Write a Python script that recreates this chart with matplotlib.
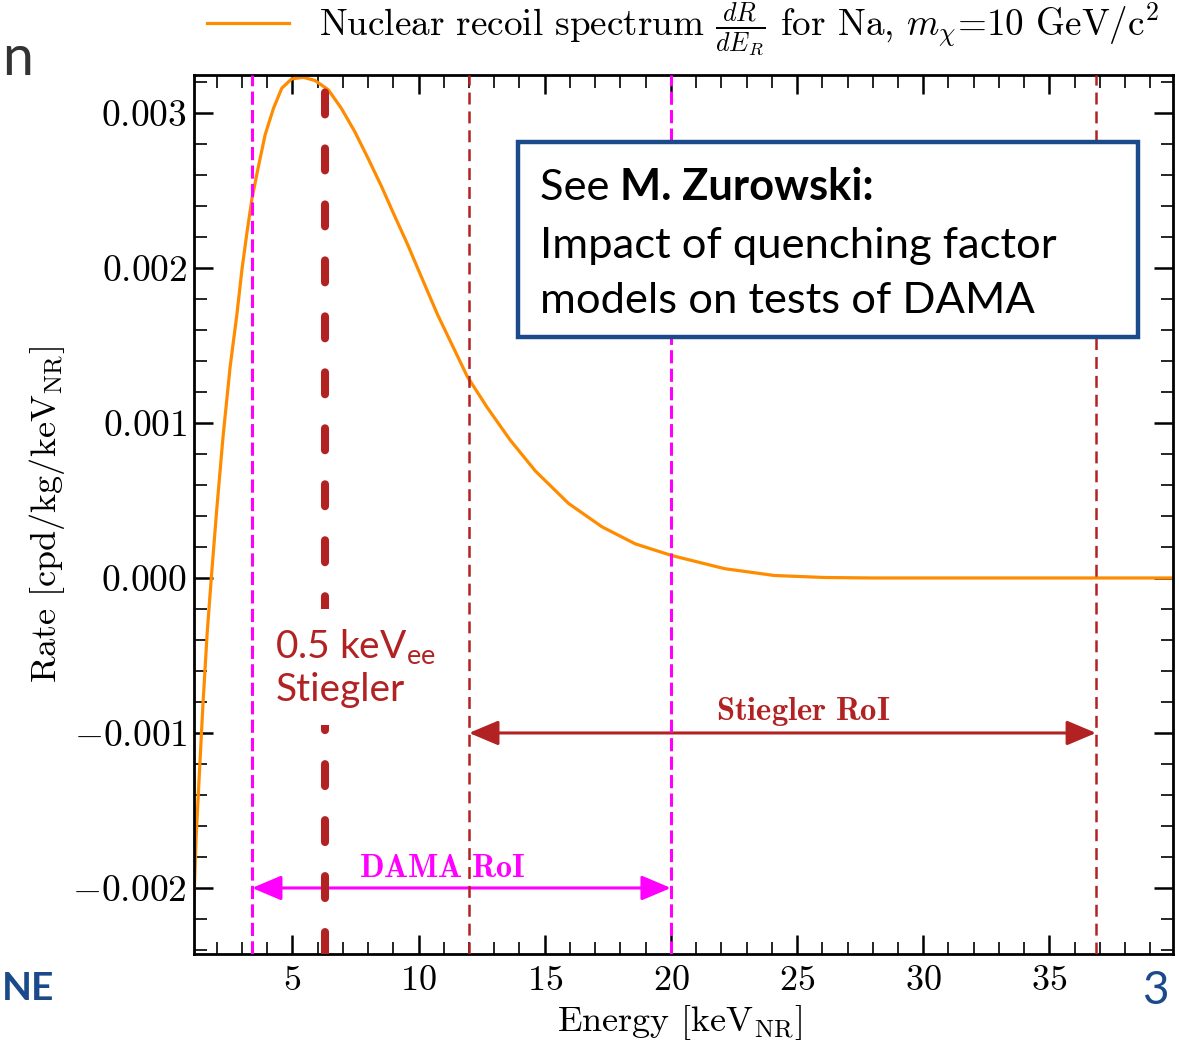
import matplotlib
matplotlib.use("Agg")
import matplotlib.pyplot as plt
from matplotlib.patches import Rectangle
from matplotlib.text import Annotation
from matplotlib.ticker import MultipleLocator

# ---------------------------------------------------------------
# data
# ---------------------------------------------------------------
energy = [1.05, 1.19, 1.32, 1.46, 1.62, 1.79, 1.99, 2.25, 2.53, 2.80, 3.00, 3.20,
          3.40, 3.66, 3.92, 4.25, 4.58, 4.97, 5.43, 5.89, 6.42, 6.94, 7.47, 7.99,
          8.52, 9.04, 9.57, 9.96, 10.75, 11.93, 12.72, 13.63, 14.63, 15.95, 17.27,
          18.59, 20.03, 22.13, 24.10, 26.10, 28.0, 30.0, 35.0, 40.0]
rate = [-2.30, -1.65, -1.24, -0.80, -0.36, 0.01, 0.42, 0.91, 1.36, 1.70, 1.99, 2.23,
        2.45, 2.66, 2.86, 3.03, 3.16, 3.22, 3.23, 3.21, 3.15, 3.03, 2.88, 2.71,
        2.53, 2.34, 2.15, 2.00, 1.70, 1.30, 1.10, 0.89, 0.69, 0.48, 0.33,
        0.22, 0.145, 0.06, 0.016, 0.003, 0.0, 0.0, 0.0, 0.0]
rate = [r * 1e-3 for r in rate]

dama_roi = [3.4, 20.0]
stiegler_roi = [12.0, 36.85]
stiegler_thr = 6.3

xticks = [5, 10, 15, 20, 25, 30, 35]
yticks = [-0.002, -0.001, 0.0, 0.001, 0.002, 0.003]
ytick_labels = [r"$-0.002$", r"$-0.001$", r"$0.000$", r"$0.001$", r"$0.002$", r"$0.003$"]

orange = "#ff8c00"
darkred = "#b22222"
magenta = "#ff00ff"
navy = "#1b4a8a"

plt.rcParams['font.family'] = 'serif'
plt.rcParams['font.serif'] = ['cmr10']
plt.rcParams['mathtext.fontset'] = 'cm'
plt.rcParams['axes.formatter.use_mathtext'] = True
plt.rcParams['mathtext.rm'] = 'Lato'
plt.rcParams['mathtext.bf'] = 'Lato:bold'
plt.rcParams['lines.scale_dashes'] = False

W, H = 1179, 1044
fig = plt.figure(figsize=(W / 100, H / 100), dpi=100)
ax = fig.add_axes([194 / W, 1 - 954 / H, (1173 - 194) / W, (954 - 75) / H])

######################################################################
# curve + lines
ax.plot(energy, rate, color=orange, lw=2.3, zorder=2,
        label=r"Nuclear recoil spectrum $\frac{dR}{dE_R}$ for Na, $m_\chi$=10 GeV/c$^2$")

for xv in dama_roi:
    ax.axvline(xv, color=magenta, lw=2.2, dashes=(9.5, 3.8), zorder=3)
for xv in stiegler_roi:
    ax.axvline(xv, color=darkred, lw=1.8, dashes=(8.6, 5.0), zorder=3)
ax.axvline(stiegler_thr, color=darkred, lw=5.8, dashes=(15.8, 24.5),
           dash_capstyle='round', zorder=3)

# RoI arrows
arrow_kw = dict(arrowstyle="<|-|>,head_length=0.9,head_width=0.38", mutation_scale=20,
                shrinkA=0, shrinkB=0, lw=2.2)
ax.annotate("", xy=(dama_roi[0], -0.002), xytext=(dama_roi[1], -0.002),
            arrowprops=dict(color=magenta, **arrow_kw), zorder=2)
ax.annotate("", xy=(stiegler_roi[0], -0.001), xytext=(stiegler_roi[1], -0.001),
            arrowprops=dict(color=darkred, **arrow_kw), zorder=2)
ax.text(10.95, -0.002 + 0.00003, r"$\mathbf{DAMA\ RoI}$", color=magenta,
        ha='center', va='bottom', fontsize=23, zorder=2)
ax.text(25.25, -0.001 + 0.00003, r"$\mathbf{Stiegler\ RoI}$", color=darkred,
        ha='center', va='bottom', fontsize=23.5, zorder=2)

ax.text(4.33, -0.00058, "0.5 keV$_\\mathrm{ee}$\nStiegler", color=darkred,
        fontfamily='Lato', math_fontfamily='custom', fontsize=28, linespacing=1.2,
        ha='left', va='center', zorder=4,
        bbox=dict(facecolor='white', edgecolor='none', pad=12))

######################################################################
# axes styling
ax.set_xlim(1.1, 39.9)
ax.set_ylim(-0.002426, 0.003245)
ax.set_xticks(xticks)
ax.set_xticklabels([r"$%d$" % t for t in xticks])
ax.set_yticks(yticks)
ax.set_yticklabels(ytick_labels)
ax.xaxis.set_minor_locator(MultipleLocator(1))
ax.yaxis.set_minor_locator(MultipleLocator(0.0002))
ax.tick_params(which='both', direction='in', top=True, right=True)
ax.tick_params(which='major', length=14, width=1.8)
ax.tick_params(which='minor', length=9, width=1.2)
ax.tick_params(axis='y', pad=5, labelsize=27)
ax.tick_params(axis='x', pad=8, labelsize=26)
for s in ax.spines.values():
    s.set_linewidth(2.0)

ax.set_xlabel(r"Energy [keV$_{\rm NR}$]", fontsize=26)
ax.set_ylabel(r"Rate [cpd/kg/keV$_{\rm NR}$]", fontsize=26)
ax.xaxis.set_label_coords(0.496, -0.056)
ax.yaxis.set_label_coords(-0.13, 0.5)

fig.legend(loc='center', bbox_to_anchor=(683 / W, 1 - 30 / H), frameon=False,
           fontsize=26.7, handlelength=2.2, handletextpad=0.8)

######################################################################
# note box
fig.add_artist(Rectangle((518 / W, 1 - 337 / H), 620 / W, 195 / H,
                         transform=fig.transFigure, facecolor='white',
                         edgecolor=navy, lw=3.2, zorder=5))
t1 = fig.text(540 / W, 1 - 207 / H, "See ", fontfamily='Lato', fontsize=31.3,
              va='bottom', zorder=6)
fig.add_artist(Annotation("M. Zurowski:", xy=(1, 0), xycoords=t1, fontfamily='Lato',
                          fontweight='bold', fontsize=31.3, va='bottom', ha='left',
                          zorder=6, annotation_clip=False))
fig.text(540 / W, 1 - 258 / H, "Impact of quenching factor", fontfamily='Lato',
         fontsize=31.3, va='baseline', zorder=6)
fig.text(540 / W, 1 - 313 / H, "models on tests of DAMA", fontfamily='Lato',
         fontsize=31.3, va='baseline', zorder=6)

# slide leftovers around the crop
fig.text(2 / W, 1 - 75 / H, "n", fontfamily='Lato', fontsize=40, color='#333333',
         ha='left', va='baseline')
fig.text(2 / W, 1 - 1000 / H, "NE", fontfamily='Lato', fontweight='bold',
         fontsize=28, color=navy, ha='left', va='baseline')
fig.text(1155 / W, 1 - 1004 / H, "3", fontfamily='Lato', fontsize=33, color=navy,
         ha='center', va='baseline')

fig.savefig("out.png", dpi=100)
